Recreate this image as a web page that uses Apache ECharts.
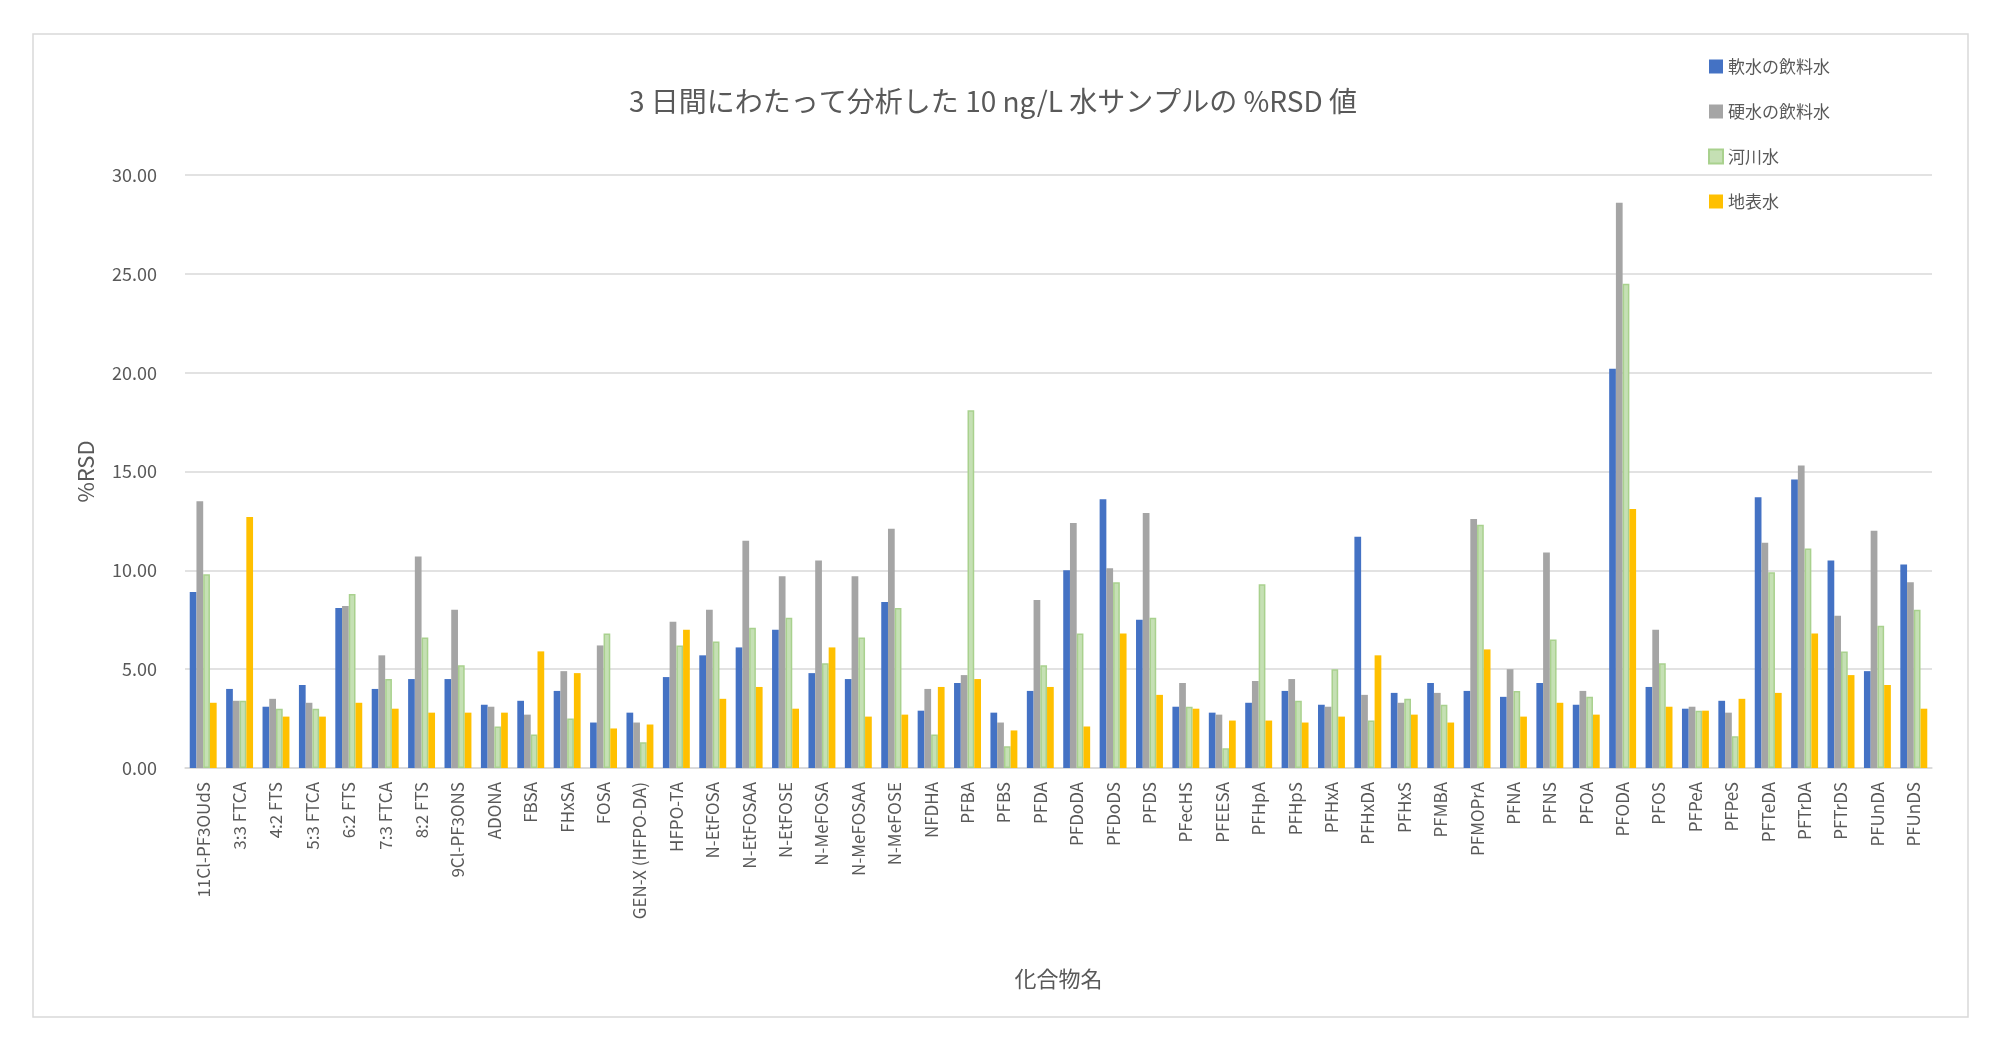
<!DOCTYPE html>
<html>
<head>
<meta charset="utf-8">
<script src="https://cdn.jsdelivr.net/npm/echarts@6/dist/echarts.min.js"></script>
<style>
  html, body { margin: 0; padding: 0; background: #fff; }
  #chart_box { width: 2000px; height: 1055px; }
</style>
</head>
<body>
<div id="chart_box"></div>
<script>
let categories = ['11Cl-PF3OUdS', '3:3 FTCA', '4:2 FTS', '5:3 FTCA', '6:2 FTS', '7:3 FTCA', '8:2 FTS', '9Cl-PF3ONS', 'ADONA', 'FBSA', 'FHxSA', 'FOSA', 'GEN-X (HFPO-DA)', 'HFPO-TA', 'N-EtFOSA', 'N-EtFOSAA', 'N-EtFOSE', 'N-MeFOSA', 'N-MeFOSAA', 'N-MeFOSE', 'NFDHA', 'PFBA', 'PFBS', 'PFDA', 'PFDoDA', 'PFDoDS', 'PFDS', 'PFecHS', 'PFEESA', 'PFHpA', 'PFHpS', 'PFHxA', 'PFHxDA', 'PFHxS', 'PFMBA', 'PFMOPrA', 'PFNA', 'PFNS', 'PFOA', 'PFODA', 'PFOS', 'PFPeA', 'PFPeS', 'PFTeDA', 'PFTrDA', 'PFTrDS', 'PFUnDA', 'PFUnDS'];
let softWater = [8.9, 4.0, 3.1, 4.2, 8.1, 4.0, 4.5, 4.5, 3.2, 3.4, 3.9, 2.3, 2.8, 4.6, 5.7, 6.1, 7.0, 4.8, 4.5, 8.4, 2.9, 4.3, 2.8, 3.9, 10.0, 13.6, 7.5, 3.1, 2.8, 3.3, 3.9, 3.2, 11.7, 3.8, 4.3, 3.9, 3.6, 4.3, 3.2, 20.2, 4.1, 3.0, 3.4, 13.7, 14.6, 10.5, 4.9, 10.3];
let hardWater = [13.5, 3.4, 3.5, 3.3, 8.2, 5.7, 10.7, 8.0, 3.1, 2.7, 4.9, 6.2, 2.3, 7.4, 8.0, 11.5, 9.7, 10.5, 9.7, 12.1, 4.0, 4.7, 2.3, 8.5, 12.4, 10.1, 12.9, 4.3, 2.7, 4.4, 4.5, 3.1, 3.7, 3.3, 3.8, 12.6, 5.0, 10.9, 3.9, 28.6, 7.0, 3.1, 2.8, 11.4, 15.3, 7.7, 12.0, 9.4];
let riverWater = [9.8, 3.4, 3.0, 3.0, 8.8, 4.5, 6.6, 5.2, 2.1, 1.7, 2.5, 6.8, 1.3, 6.2, 6.4, 7.1, 7.6, 5.3, 6.6, 8.1, 1.7, 18.1, 1.1, 5.2, 6.8, 9.4, 7.6, 3.1, 1.0, 9.3, 3.4, 5.0, 2.4, 3.5, 3.2, 12.3, 3.9, 6.5, 3.6, 24.5, 5.3, 2.9, 1.6, 9.9, 11.1, 5.9, 7.2, 8.0];
let surfaceWater = [3.3, 12.7, 2.6, 2.6, 3.3, 3.0, 2.8, 2.8, 2.8, 5.9, 4.8, 2.0, 2.2, 7.0, 3.5, 4.1, 3.0, 6.1, 2.6, 2.7, 4.1, 4.5, 1.9, 4.1, 2.1, 6.8, 3.7, 3.0, 2.4, 2.4, 2.3, 2.6, 5.7, 2.7, 2.3, 6.0, 2.6, 3.3, 2.7, 13.1, 3.1, 2.9, 3.5, 3.8, 6.8, 4.7, 4.2, 3.0];
let seriesNames = ['軟水の飲料水', '硬水の飲料水', '河川水', '地表水'];

let myChart = echarts.init(document.getElementById('chart_box'));
let font = "'Noto Sans CJK JP', 'Liberation Sans', sans-serif";

function bar(name, data, color, border) {
    return {
        name: name,
        type: 'bar',
        data: data,
        barGap: '0%',
        barCategoryGap: '26%',
        itemStyle: border ? { color: color, borderColor: border, borderWidth: 1.5 } : { color: color }
    };
}

let myOption = {
    animation: false,
    textStyle: { fontFamily: font },
    graphic: [{
        type: 'rect',
        shape: { x: 33, y: 34, width: 1935, height: 983 },
        style: { fill: 'none', stroke: '#d9d9d9', lineWidth: 1.5 }
    }],
    title: {
        text: '3 日間にわたって分析した 10 ng/L 水サンプルの %RSD 値',
        left: 988,
        top: 82,
        textAlign: 'center',
        textStyle: { fontSize: 28, fontWeight: 'normal', color: '#595959', fontFamily: font }
    },
    legend: {
        data: seriesNames,
        orient: 'vertical',
        left: 1703,
        top: 53,
        itemGap: 28,
        itemWidth: 14,
        itemHeight: 14,
        icon: 'rect',
        textStyle: { fontSize: 17, color: '#595959' }
    },
    grid: { left: 185, right: 68, top: 175, bottom: 287, containLabel: false },
    xAxis: {
        type: 'category',
        data: categories,
        name: '化合物名',
        nameLocation: 'middle',
        nameGap: 200,
        nameTextStyle: { fontSize: 22, color: '#595959' },
        axisTick: { show: false },
        axisLine: { lineStyle: { color: '#d9d9d9', width: 1.5 } },
        axisLabel: { rotate: 90, interval: 0, fontSize: 17, color: '#595959', margin: 14 }
    },
    yAxis: {
        type: 'value',
        min: 0,
        max: 30,
        interval: 5,
        name: '%RSD',
        nameLocation: 'middle',
        nameGap: 88,
        nameTextStyle: { fontSize: 22, color: '#595959' },
        axisLine: { show: false },
        axisTick: { show: false },
        splitLine: { lineStyle: { color: '#d9d9d9', width: 1.5 } },
        axisLabel: { fontSize: 18, color: '#595959', margin: 28, formatter: function (v) { return v.toFixed(2); } }
    },
    series: [
        bar(seriesNames[0], softWater, '#4472C4'),
        bar(seriesNames[1], hardWater, '#A5A5A5'),
        bar(seriesNames[2], riverWater, '#C5E0B4', '#A9D18E'),
        bar(seriesNames[3], surfaceWater, '#FFC000')
    ]
};

myChart.setOption(myOption);
</script>
</body>
</html>
